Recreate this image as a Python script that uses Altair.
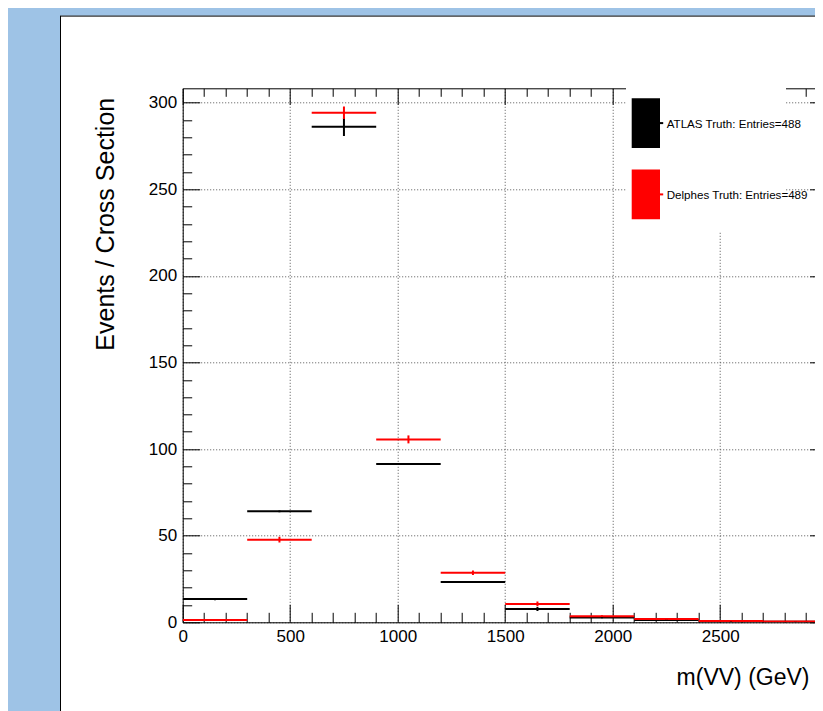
import altair as alt
import pandas as pd

# ---------------- data ----------------
edges = [0, 300, 600, 900, 1200, 1500, 1800, 2100, 2400, 2700, 3000]
series = ["ATLAS Truth: Entries=488", "Delphes Truth: Entries=489"]
colors = ["#000000", "#ff0000"]
atlas = [13.4, 64.1, 286.1, 91.4, 23.3, 7.7, 2.7, 1.3, 0.5, 0.3]
atlas_err = [0.6, 0.5, 5.4, 0.5, 0.5, 1.2, 0.4, 0.3, 0.2, 0.2]
delphes = [1.3, 47.7, 294.2, 105.6, 28.6, 10.6, 3.5, 1.9, 0.7, 0.4]
delphes_err = [0.5, 1.7, 3.6, 2.3, 1.3, 1.4, 0.5, 0.4, 0.3, 0.2]

x_major = [0, 500, 1000, 1500, 2000, 2500, 3000]
x_minor = list(range(0, 3001, 100))
y_major = [0, 50, 100, 150, 200, 250, 300]
y_minor = list(range(0, 301, 10))
x_title = "m(VV) (GeV)"
y_title = "Events / Cross Section"

# ---------------- layout ----------------
W, H = 632.3, 534.0
XMAX, YMAX = 2941.0, 308.3
FONT = "Liberation Sans, Arial, Helvetica, sans-serif"

rows = []
for name, vals, errs in [(series[0], atlas, atlas_err), (series[1], delphes, delphes_err)]:
    for i, v in enumerate(vals):
        rows.append({
            "series": name,
            "x0": edges[i], "x1": edges[i + 1],
            "xc": (edges[i] + edges[i + 1]) / 2,
            "y": v, "lo": v - errs[i], "hi": v + errs[i],
        })
df = pd.DataFrame(rows)

xs = alt.Scale(domain=[0, XMAX], nice=False, zero=False)
ys = alt.Scale(domain=[0, YMAX], nice=False, zero=False)
cs = alt.Scale(domain=series, range=colors)

lab = dict(labelFont=FONT, labelFontSize=17, labelColor="black", format="d")

X1 = alt.Axis(orient="bottom", values=x_major, labelFlush=False, labelOverlap=False,
              ticks=False, tickSize=0, domain=True, domainColor="black", domainWidth=1,
              grid=True, gridColor="#555555", gridDash=[1, 2], gridWidth=1,
              labelPadding=6, **lab,
              title=x_title, titleFont=FONT, titleFontSize=23, titleFontWeight="normal",
              titleColor="black", titleAlign="right", titleBaseline="alphabetic",
              titleX=W - 6, titleY=62)
Y1 = alt.Axis(orient="left", values=y_major, labelOverlap=False,
              ticks=False, tickSize=0, domain=True, domainColor="black", domainWidth=1,
              grid=True, gridColor="#555555", gridDash=[1, 2], gridWidth=1,
              labelPadding=6, **lab,
              title=y_title, titleFont=FONT, titleFontSize=25, titleFontWeight="normal",
              titleColor="black", titleAngle=270, titleAlign="right",
              titleBaseline="alphabetic", titleX=-69.5, titleY=9)

def tick_axis(orient, offset, values, major_test, major, minor, domain=False):
    return alt.Axis(orient=orient, offset=offset, values=values, labels=False,
                    domain=domain, domainColor="black", domainWidth=1, grid=False,
                    ticks=True, tickColor="black", tickWidth=1,
                    tickSize={"condition": {"test": major_test, "value": major}, "value": minor},
                    title=None)

X2 = tick_axis("top", -H, x_minor, "datum.value % 500 === 0", 18, 10)
X3 = tick_axis("bottom", -H, x_minor, "datum.value % 500 === 0", 16, 8, domain=True)
Y2 = tick_axis("right", -W, y_minor, "datum.value % 50 === 0", 17, 9)
Y3 = tick_axis("left", -645.0, y_minor, "datum.value % 50 === 0", 18, 10)

bins = alt.Chart(df).mark_rule(strokeWidth=2, clip=True).encode(
    x=alt.X("x0:Q", scale=xs, axis=X1),
    x2="x1:Q",
    y=alt.Y("y:Q", scale=ys, axis=Y1),
    color=alt.Color("series:N", scale=cs, legend=None),
)
errs = alt.Chart(df).mark_rule(strokeWidth=2, clip=True).encode(
    x=alt.X("xc:Q", scale=xs, axis=X2),
    y=alt.Y("lo:Q", scale=ys, axis=Y2),
    y2="hi:Q",
    color=alt.Color("series:N", scale=cs, legend=None),
)
ghost = alt.Chart(df).mark_point(opacity=0).encode(
    x=alt.X("xc:Q", scale=xs, axis=X3),
    y=alt.Y("y:Q", scale=ys, axis=Y3),
)

one = pd.DataFrame([{"k": 0}])

# window frame decoration (outside the plot area)
frame_blue = "#9ec3e6"
deco = [
    alt.Chart(one).mark_rect(color=frame_blue).encode(
        x=alt.value(-174.7), x2=alt.value(-122.7), y=alt.value(-80.3), y2=alt.value(H + 90)),
    alt.Chart(one).mark_rect(color=frame_blue).encode(
        x=alt.value(-122.7), x2=alt.value(W), y=alt.value(-80.3), y2=alt.value(-72.6)),
    alt.Chart(one).mark_rule(color="black", strokeWidth=1).encode(
        x=alt.value(-122.2), y=alt.value(-72.6), y2=alt.value(H + 90)),
    alt.Chart(one).mark_rule(color="black", strokeWidth=1).encode(
        x=alt.value(-122.2), x2=alt.value(W), y=alt.value(-72.2)),
]

# legend box
leg = [alt.Chart(one).mark_rect(color="white").encode(
    x=alt.value(443.3), x2=alt.value(603.3), y=alt.value(-3), y2=alt.value(142.7))]
for i, (name, col) in enumerate(zip(series, colors)):
    top = 10 + i * 71.3
    ld = pd.DataFrame([{"label": name, "color": col}])
    leg.append(alt.Chart(ld).mark_rect(color=col).encode(
        x=alt.value(449), x2=alt.value(477.3), y=alt.value(top), y2=alt.value(top + 49.6)))
    leg.append(alt.Chart(ld).mark_rule(color=col, strokeWidth=2).encode(
        x=alt.value(477.3), x2=alt.value(480.5), y=alt.value(top + 24.8)))
    leg.append(alt.Chart(ld).mark_text(align="left", baseline="alphabetic", font=FONT,
                                       fontSize=11.6, color="black").encode(
        x=alt.value(484), y=alt.value(top + 29.6), text="label:N"))

chart = alt.layer(bins, errs, ghost, *deco, *leg).resolve_axis(
    x="independent", y="independent"
).properties(
    width=W, height=H,
    padding={"left": 174.7, "top": 80.3, "right": 0, "bottom": 88.7},
    autosize=alt.AutoSizeParams(type="none"),
    background="white",
).configure_view(stroke="transparent")

chart.save("out.html", embed_options={"renderer": "svg", "actions": False})
